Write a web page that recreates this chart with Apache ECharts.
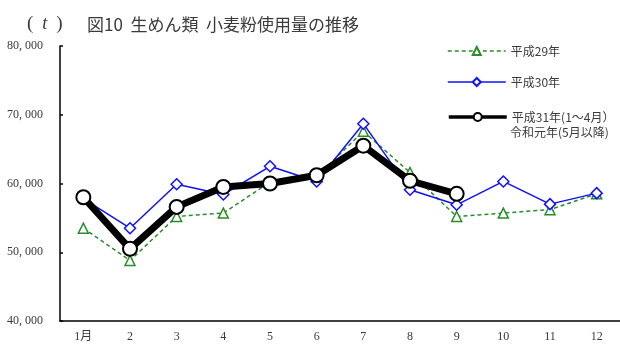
<!DOCTYPE html>
<html>
<head>
<meta charset="utf-8">
<script src="https://cdn.jsdelivr.net/npm/echarts@6/dist/echarts.min.js"></script>
<style>
  html, body { margin: 0; padding: 0; background: #fff; }
  #chart { width: 620px; height: 344px; }
</style>
</head>
<body>
<div id="chart"></div>
<script>
// Monthly wheat flour usage for fresh noodles (tonnes)
const months = ['1月', '2', '3', '4', '5', '6', '7', '8', '9', '10', '11', '12'];
const seriesNames = ['平成29年', '平成30年', '平成31年(1～4月）'];
const h29 = [53500, 48800, 55200, 55700, 60200, 61000, 67600, 61600, 55200, 55700, 56200, 58500];
const h30 = [57800, 53500, 59900, 58400, 62500, 60300, 68700, 59100, 56900, 60300, 57000, 58600];
const r01 = [58000, 50500, 56600, 59500, 60000, 61200, 65500, 60400, 58500];
const yTicks = [40000, 50000, 60000, 70000, 80000];

const FONT = '"Noto Sans CJK JP", "Noto Sans", sans-serif';
const NUM_FONT = '"Liberation Serif", "Noto Sans CJK JP", serif';
const GREEN = '#2a8c2a';
const BLUE = '#1010ff';
const TEXT = '#3a3a3a';

const chart = echarts.init(document.getElementById('chart'), null, { renderer: 'canvas' });

function legendAt(top, name, lineWidth) {
  return {
    left: 447, top: top, padding: 0, orient: 'vertical',
    itemWidth: 58, itemHeight: 10, selectedMode: false,
    textStyle: { fontFamily: FONT, fontSize: 12, color: TEXT },
    data: [{ name: name, lineStyle: { width: lineWidth } }]
  };
}

chart.setOption({
  animation: false,
  backgroundColor: '#fff',
  title: [
    {
      text: '{p|(}{t|  t  }{p|)}',
      left: 22, top: 10,
      textStyle: {
        fontWeight: 'normal',
        rich: {
          p: { fontFamily: NUM_FONT, fontSize: 19, fontWeight: 'normal', color: TEXT },
          t: { fontFamily: NUM_FONT, fontSize: 18, fontWeight: 'normal', fontStyle: 'italic', color: TEXT }
        }
      }
    },
    {
      text: '図10  生めん類  小麦粉使用量の推移',
      left: 82, top: 11,
      textStyle: { fontFamily: FONT, fontSize: 17, fontWeight: 'normal', color: TEXT }
    }
  ],
  legend: [
    legendAt(45, seriesNames[0], 1.5),
    legendAt(76, seriesNames[1], 1.5),
    legendAt(111, seriesNames[2], 3.5)
  ],
  graphic: [
    {
      type: 'text', left: 510, top: 126,
      style: { text: '令和元年(5月以降)', font: '12px ' + FONT, fill: TEXT }
    }
  ],
  grid: { left: 60, right: 0, top: 46, bottom: 23, containLabel: false },
  xAxis: {
    type: 'category',
    data: months,
    boundaryGap: true,
    axisLine: { lineStyle: { color: '#000', width: 1.5 } },
    axisTick: { inside: true, length: 4, alignWithLabel: false, lineStyle: { color: '#000', width: 1.5 } },
    axisLabel: { margin: 10, fontFamily: NUM_FONT, fontSize: 12, color: TEXT },
    splitLine: { show: false }
  },
  yAxis: {
    type: 'value',
    min: yTicks[0], max: yTicks[yTicks.length - 1], interval: 10000,
    axisLine: { show: true, lineStyle: { color: '#000', width: 1.5 } },
    axisTick: { show: true, inside: true, length: 3, lineStyle: { color: '#000', width: 1.5 } },
    axisLabel: {
      margin: 17, fontFamily: NUM_FONT, fontSize: 12, color: TEXT,
      formatter: v => (v / 1000) + ', 000'
    },
    splitLine: { show: false }
  },
  series: [
    {
      name: seriesNames[0], type: 'line', data: h29, z: 2,
      symbol: 'triangle', symbolSize: 10,
      lineStyle: { color: GREEN, width: 1.5, type: [4, 3] },
      itemStyle: { color: '#fff', borderColor: GREEN, borderWidth: 1.5 }
    },
    {
      name: seriesNames[1], type: 'line', data: h30, z: 3,
      symbol: 'diamond', symbolSize: 11,
      lineStyle: { color: BLUE, width: 1.5 },
      itemStyle: { color: '#fff', borderColor: BLUE, borderWidth: 1.5 }
    },
    {
      name: seriesNames[2], type: 'line', data: r01, z: 4,
      symbol: 'circle', symbolSize: 14,
      lineStyle: { color: '#000', width: 7 },
      itemStyle: { color: '#fff', borderColor: '#000', borderWidth: 2 }
    }
  ]
});
</script>
</body>
</html>
